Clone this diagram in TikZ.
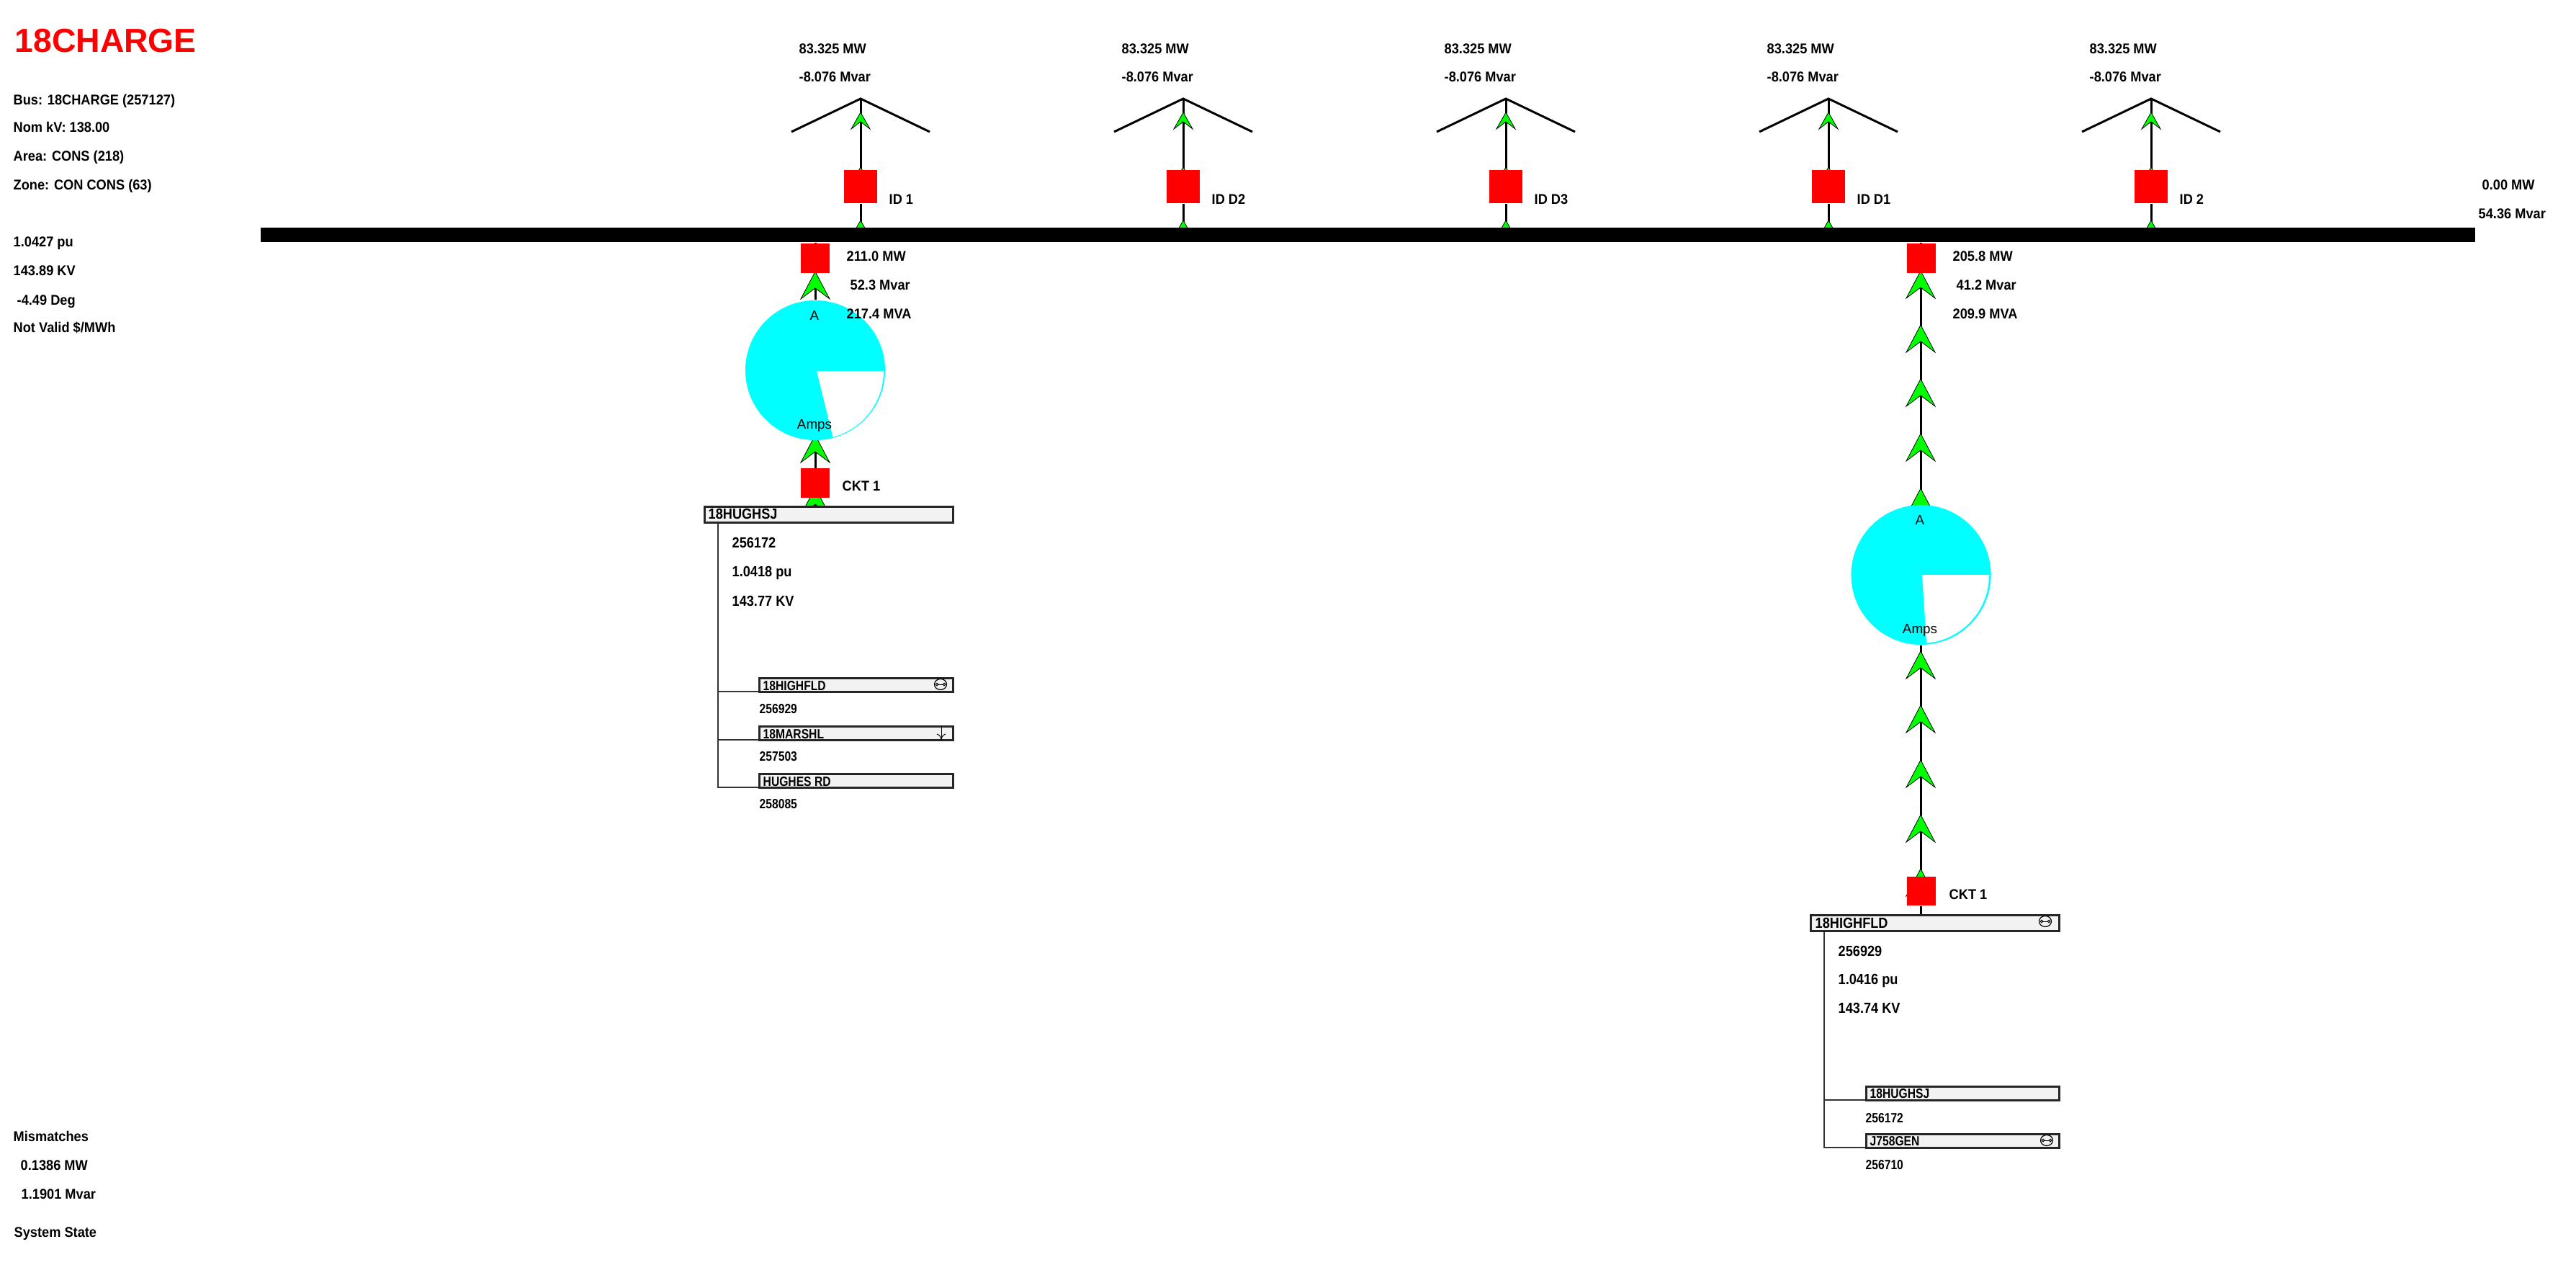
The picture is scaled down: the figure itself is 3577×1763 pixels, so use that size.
\documentclass[tikz,border=0pt]{standalone}
\usepackage{fontspec}
\setmainfont{Liberation Sans}
\newfontfamily\txtfam[FakeStretch=0.925]{Liberation Sans}
\newfontfamily\treefam[FakeStretch=0.89]{Liberation Sans}
\newfontfamily\subfam[FakeStretch=0.84]{Liberation Sans}
\definecolor{flowgreen}{HTML}{00FF00}
\definecolor{metercyan}{HTML}{00FFFF}
\definecolor{boxgrey}{HTML}{F2F2F2}
\pgfdeclarelayer{wirelayer}
\pgfdeclarelayer{tiplayer}
\pgfsetlayers{wirelayer,tiplayer,main}
\tikzset{
  txt/.style={anchor=base west,inner sep=0pt,font=\txtfam\bfseries\fontsize{5.6pt}{6pt}\selectfont,text=black},
  txttree/.style={txt,font=\treefam\bfseries\fontsize{5.8pt}{6pt}\selectfont},
  txtsub/.style={txt,font=\subfam\bfseries\fontsize{5.3pt}{6pt}\selectfont},
  txtmeter/.style={anchor=base,inner sep=0pt,font=\fontsize{5.35pt}{6pt}\selectfont,text=black},
  wire/.style={line width=0.03cm,black},
  treewire/.style={line width=0.02cm,black!80},
  flowtip/.style={fill=flowgreen,draw=black,line width=0.008cm,line join=miter},
  brkbig/.style={fill=red,inner sep=0pt,minimum size=0.46cm},
  brk/.style={fill=red,inner sep=0pt,minimum size=0.4cm},
  meter/.style={circle,fill=metercyan,inner sep=0pt,minimum size=1.94cm},
  busbox/.style={draw=black!85,fill=boxgrey,line width=0.03cm,inner sep=0pt},
  flowbig/.pic={\draw[flowtip] (0,0) -- (20,38) -- (0,23) -- (-20,38) -- cycle;},
  flowsmall/.pic={\draw[flowtip] (0,0) -- (13,23) -- (0,13) -- (-13,23) -- cycle;},
  tieicon/.pic={
    \draw[line width=0.012cm] (0,0) ellipse [x radius=0.085cm,y radius=0.075cm];
    \draw[line width=0.01cm] (-5,0) circle [radius=0.018cm];
    \draw[line width=0.01cm] (5,0) circle [radius=0.018cm];
    \draw[line width=0.01cm] (-3,0) -- (3,0);},
}
\begin{document}
\begin{tikzpicture}[x=0.01cm,y=-0.01cm]
\begin{pgfonlayer}{wirelayer}
\path[use as bounding box,fill=white] (0,0) rectangle (3577,1763);
\end{pgfonlayer}

% header text
\path(20,72) node[txt,text=red,font=\bfseries\fontsize{13.17pt}{15pt}\selectfont] (title){18CHARGE};
\path(18,145) node[txt] (info1){Bus: 18CHARGE (257127)};
\path(18,183) node[txt] (info2){Nom kV: 138.00};
\path(18,223) node[txt] (info3){Area: CONS (218)};
\path(18,263) node[txt] (info4){Zone: CON CONS (63)};
\path(18,342) node[txt] (info5){1.0427 pu};
\path(18,382) node[txt] (info6){143.89 KV};
\path(23,423) node[txt] (info7){-4.49 Deg};
\path(18,461) node[txt] (info8){Not Valid \$/MWh};
\path(18,1584) node[txt] (mis1){Mismatches};
\path(28,1624) node[txt] (mis2){0.1386 MW};
\path(29,1664) node[txt] (mis3){1.1901 Mvar};
\path(19,1717) node[txt] (mis4){System State};

% bus
\path(1899.5,326) node[fill=black,inner sep=0pt,minimum width=30.73cm,minimum height=0.2cm] (bus){};
\path(3446,263) node[txt] (busmw){0.00 MW};
\path(3441,303) node[txt] (busmv){54.36 Mvar};

% load 1
\path (1195,137) coordinate (load1);
\path (1099,183) coordinate (wingL1);
\path (1291,183) coordinate (wingR1);
\path(1195,259) node[brkbig] (brk1){};
\path(1234,283) node[txt] (id1){ID 1};
\path(1109,74) node[txt] (mw1){83.325 MW};
\path(1109,113) node[txt] (mv1){-8.076 Mvar};
% load 2
\path (1643,137) coordinate (load2);
\path (1547,183) coordinate (wingL2);
\path (1739,183) coordinate (wingR2);
\path(1643,259) node[brkbig] (brk2){};
\path(1682,283) node[txt] (id2){ID D2};
\path(1557,74) node[txt] (mw2){83.325 MW};
\path(1557,113) node[txt] (mv2){-8.076 Mvar};
% load 3
\path (2091,137) coordinate (load3);
\path (1995,183) coordinate (wingL3);
\path (2187,183) coordinate (wingR3);
\path(2091,259) node[brkbig] (brk3){};
\path(2130,283) node[txt] (id3){ID D3};
\path(2005,74) node[txt] (mw3){83.325 MW};
\path(2005,113) node[txt] (mv3){-8.076 Mvar};
% load 4
\path (2539,137) coordinate (load4);
\path (2443,183) coordinate (wingL4);
\path (2635,183) coordinate (wingR4);
\path(2539,259) node[brkbig] (brk4){};
\path(2578,283) node[txt] (id4){ID D1};
\path(2453,74) node[txt] (mw4){83.325 MW};
\path(2453,113) node[txt] (mv4){-8.076 Mvar};
% load 5
\path (2987,137) coordinate (load5);
\path (2891,183) coordinate (wingL5);
\path (3083,183) coordinate (wingR5);
\path(2987,259) node[brkbig] (brk5){};
\path(3026,283) node[txt] (id5){ID 2};
\path(2901,74) node[txt] (mw5){83.325 MW};
\path(2901,113) node[txt] (mv5){-8.076 Mvar};

% draw loads
\begin{pgfonlayer}{wirelayer}
\draw[wire] (wingL1) -- (load1) -- (wingR1);
\draw[wire] (wingL2) -- (load2) -- (wingR2);
\draw[wire] (wingL3) -- (load3) -- (wingR3);
\draw[wire] (wingL4) -- (load4) -- (wingR4);
\draw[wire] (wingL5) -- (load5) -- (wingR5);
\draw[wire] (load1) -- (brk1) -- (brk1 |- bus.north);
\draw[wire] (load2) -- (brk2) -- (brk2 |- bus.north);
\draw[wire] (load3) -- (brk3) -- (brk3 |- bus.north);
\draw[wire] (load4) -- (brk4) -- (brk4 |- bus.north);
\draw[wire] (load5) -- (brk5) -- (brk5 |- bus.north);
\end{pgfonlayer}
\begin{pgfonlayer}{tiplayer}
\pic at (1195,156) {flowsmall};
\pic at (1195,232) {flowsmall};
\pic at (1195,306) {flowsmall};
\pic at (1643,156) {flowsmall};
\pic at (1643,232) {flowsmall};
\pic at (1643,306) {flowsmall};
\pic at (2091,156) {flowsmall};
\pic at (2091,232) {flowsmall};
\pic at (2091,306) {flowsmall};
\pic at (2539,156) {flowsmall};
\pic at (2539,232) {flowsmall};
\pic at (2539,306) {flowsmall};
\pic at (2987,156) {flowsmall};
\pic at (2987,232) {flowsmall};
\pic at (2987,306) {flowsmall};
\end{pgfonlayer}

% branch to 18HUGHSJ
\path(1151,714.5) node[busbox,minimum width=3.45cm,minimum height=0.22cm] (hugh){};
\path(1132,358.5) node[brk] (brkA1){};
\path(1132,670.5) node[brk] (brkA2){};
\path(1132,514) node[meter] (meterA){};
\begin{pgfonlayer}{wirelayer}
\draw[wire] (brkA1 |- bus.south) -- (brkA1) -- (meterA) -- (brkA2) -- (brkA2 |- hugh.north);
\end{pgfonlayer}
\begin{pgfonlayer}{tiplayer}
\pic at (1132,377) {flowbig};
\pic at (1132,604) {flowbig};
\pic at (1132,677) {flowbig};
\end{pgfonlayer}
\path (1134,515) coordinate (wedgeA);
\fill[white] (wedgeA) -- (1227,515) arc [start angle=0,end angle=-75,radius=0.95cm] -- cycle;
\path(1131,444) node[txtmeter] (ampA1){A};
\path(1131,595) node[txtmeter] (ampA2){Amps};
\path(1175,362) node[txt] (mwA){211.0 MW};
\path(1180,402) node[txt] (mvA){52.3 Mvar};
\path(1175,442) node[txt] (mvaA){217.4 MVA};
\path(1169,681) node[txt] (cktA){CKT 1};

% box 18HUGHSJ
\path(983,720) node[txttree] (hughname){18HUGHSJ};
\path(1016,760) node[txttree] (hugh1){256172};
\path(1016,800) node[txttree] (hugh2){1.0418 pu};
\path(1016,841) node[txttree] (hugh3){143.77 KV};
\path(1189,951) node[busbox,minimum width=2.69cm,minimum height=0.19cm] (subA1){};
\path(1189,1018) node[busbox,minimum width=2.69cm,minimum height=0.19cm] (subA2){};
\path(1189,1084) node[busbox,minimum width=2.69cm,minimum height=0.19cm] (subA3){};
\path(1059,958) node[txtsub] (subA1name){18HIGHFLD};
\path(1059,1025) node[txtsub] (subA2name){18MARSHL};
\path(1059,1091) node[txtsub] (subA3name){HUGHES RD};
\path(1054,990) node[txtsub] (subA1num){256929};
\path(1054,1056) node[txtsub] (subA2num){257503};
\path(1054,1122) node[txtsub] (subA3num){258085};
\path (997,727) coordinate (treeA);
\draw[treewire] (treeA) |- ([yshift=0.02cm]subA1.south west);
\draw[treewire] (treeA) |- ([yshift=0.02cm]subA2.south west);
\draw[treewire] (treeA) |- ([yshift=0.02cm]subA3.south west);
\pic at (1306,950) {tieicon};
\draw[line width=0.01cm] (1307,1008) -- (1307,1026);
\draw[line width=0.01cm] (1301,1019) .. controls (1305,1021) .. (1307,1026) .. controls (1309,1021) .. (1313,1019);

% branch to 18HIGHFLD
\path(2687,1281.5) node[busbox,minimum width=3.45cm,minimum height=0.22cm] (high){};
\path(2667.5,358.5) node[brk] (brkB1){};
\path(2667.5,1237) node[brk] (brkB2){};
\path(2667.5,798) node[meter] (meterB){};
\begin{pgfonlayer}{wirelayer}
\draw[wire] (brkB1 |- bus.south) -- (brkB1) -- (meterB) -- (brkB2) -- (brkB2 |- high.north);
\end{pgfonlayer}
\begin{pgfonlayer}{tiplayer}
\pic at (2667,376) {flowbig};
\pic at (2667,451) {flowbig};
\pic at (2667,526) {flowbig};
\pic at (2667,602) {flowbig};
\pic at (2667,678) {flowbig};
\pic at (2667,904) {flowbig};
\pic at (2667,979) {flowbig};
\pic at (2667,1055) {flowbig};
\pic at (2667,1131) {flowbig};
\pic at (2667,1206) {flowbig};
\end{pgfonlayer}
\path (2669,798) coordinate (wedgeB);
\fill[white] (wedgeB) -- (2762,798) arc [start angle=0,end angle=-85,radius=0.95cm] -- cycle;
\path(2666,728) node[txtmeter] (ampB1){A};
\path(2666,879) node[txtmeter] (ampB2){Amps};
\path(2711,362) node[txt] (mwB){205.8 MW};
\path(2716,402) node[txt] (mvB){41.2 Mvar};
\path(2711,442) node[txt] (mvaB){209.9 MVA};
\path(2706,1248) node[txt] (cktB){CKT 1};

% box 18HIGHFLD
\path(2520,1288) node[txttree] (highname){18HIGHFLD};
\path(2552,1327) node[txttree] (high1){256929};
\path(2552,1366) node[txttree] (high2){1.0416 pu};
\path(2552,1406) node[txttree] (high3){143.74 KV};
\pic at (2840,1279) {tieicon};
\path(2725.5,1518) node[busbox,minimum width=2.68cm,minimum height=0.19cm] (subB1){};
\path(2725.5,1584) node[busbox,minimum width=2.68cm,minimum height=0.19cm] (subB2){};
\path(2596,1524) node[txtsub] (subB1name){18HUGHSJ};
\path(2596,1590) node[txtsub] (subB2name){J758GEN};
\path(2590,1558) node[txtsub] (subB1num){256172};
\path(2590,1623) node[txtsub] (subB2num){256710};
\path (2533,1294) coordinate (treeB);
\draw[treewire] (treeB) |- ([yshift=0.02cm]subB1.south west);
\draw[treewire] (treeB) |- ([yshift=0.02cm]subB2.south west);
\pic at (2842,1583) {tieicon};
\end{tikzpicture}
\end{document}
